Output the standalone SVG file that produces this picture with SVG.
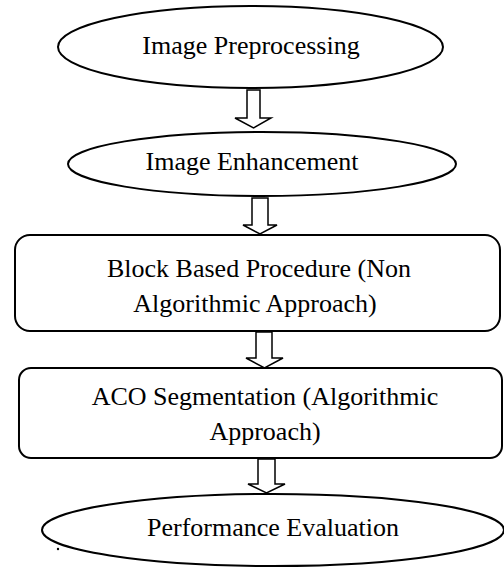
<svg xmlns="http://www.w3.org/2000/svg" width="504" height="567" viewBox="0 0 504 567">
  <style>
    .shape { fill: #ffffff; stroke: #000000; stroke-width: 2; }
    .arrow { fill: #ffffff; stroke: #000000; stroke-width: 1.5; stroke-linejoin: miter; }
    .label { font-family: "Liberation Serif", "Times New Roman", serif; font-size: 26px; fill: #000000; text-anchor: middle; }
  </style>
  <rect width="504" height="567" fill="#ffffff"/>

  <!-- hollow block arrows between stages -->
  <g id="connectors">
    <path class="arrow" d="M247,90 H260 V118 H271 L253.5,128 L235,118 H247 Z"/>
    <path class="arrow" d="M252,198 H268 V225 H277 L260,234 L243,225 H252 Z"/>
    <path class="arrow" d="M256,332 H272 V358 H283 L264.5,368 L246,358 H256 Z"/>
    <path class="arrow" d="M258,459 H275 V484 H285 L266.5,493 L248,484 H258 Z"/>
  </g>

  <g id="preprocessing">
    <ellipse class="shape" cx="250.5" cy="47" rx="192.5" ry="41"/>
    <text class="label" x="251" y="54">Image Preprocessing</text>
  </g>

  <g id="enhancement">
    <ellipse class="shape" cx="262" cy="164" rx="194" ry="32"/>
    <text class="label" x="252" y="170">Image Enhancement</text>
  </g>

  <g id="block-based">
    <rect class="shape" x="15" y="235" width="485" height="96" rx="15" ry="15"/>
    <text class="label" x="259" y="277">Block Based Procedure (Non</text>
    <text class="label" x="255" y="312">Algorithmic Approach)</text>
  </g>

  <g id="aco-segmentation">
    <rect class="shape" x="19" y="368" width="483" height="90" rx="12" ry="12"/>
    <text class="label" x="265" y="405">ACO Segmentation (Algorithmic</text>
    <text class="label" x="265" y="440">Approach)</text>
  </g>

  <g id="performance">
    <ellipse class="shape" cx="273" cy="530" rx="231" ry="36"/>
    <text class="label" x="273" y="536">Performance Evaluation</text>
  </g>

  <circle cx="58" cy="549" r="1.2" fill="#000000"/>
</svg>
